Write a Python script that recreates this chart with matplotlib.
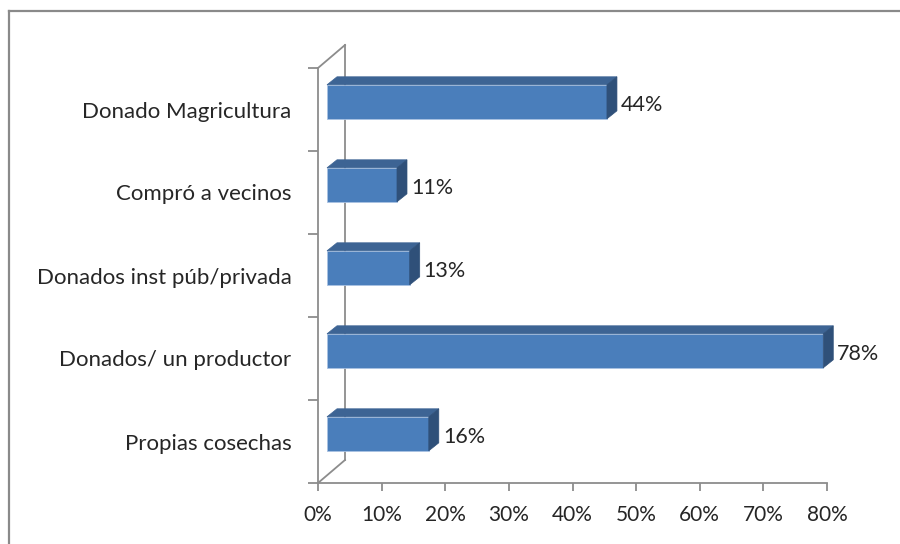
import matplotlib
matplotlib.use("Agg")
import matplotlib.pyplot as plt
from matplotlib.patches import Polygon
from matplotlib.lines import Line2D
from matplotlib import transforms
import numpy as np

plt.rcParams['font.family'] = ['Lato', 'DejaVu Sans']

# datos
categorias = ['Donado Magricultura', 'Compró a vecinos', 'Donados inst púb/privada',
              'Donados/ un productor', 'Propias cosechas']
valores = [44, 11, 13, 78, 16]
etiquetas = ['44%', '11%', '13%', '78%', '16%']
xticks = [0, 10, 20, 30, 40, 50, 60, 70, 80]
xticklabels = ['0%', '10%', '20%', '30%', '40%', '50%', '60%', '70%', '80%']

W, H = 900, 544
fig = plt.figure(figsize=(9, 5.44), dpi=100)
ax = fig.add_axes([318 / W, 1 - 483 / H, (827 - 318) / W, (483 - 68) / H])

n = len(categorias)
ypos = np.arange(n)[::-1]
ax.set_xlim(0, 80)
ax.set_ylim(-0.5, n - 0.5)

gris = '#8c8c8c'
texto = '#262626'
for s in ['top', 'right']:
    ax.spines[s].set_visible(False)
for s in ['left', 'bottom']:
    ax.spines[s].set_color(gris)
    ax.spines[s].set_linewidth(1.3)

ax.set_xticks(xticks)
ax.set_xticklabels(xticklabels, fontsize=15, color=texto)
ax.tick_params(axis='x', direction='out', length=6, width=1.3, color=gris, pad=10)
ax.set_yticks(np.arange(-0.5, n, 1.0))
ax.set_yticklabels([])
ax.tick_params(axis='y', which='major', direction='out', length=7, width=1.3, color=gris)
ax.set_yticks(ypos, minor=True)
ax.set_yticklabels(categorias, minor=True, fontsize=16, color=texto)
ax.tick_params(axis='y', which='minor', length=0, pad=19)

# profundidad 3D en pixeles
wall_dx, wall_dy = 27, 23
bar_dx, bar_dy = 9, 7.7
dep_dx, dep_dy = 10, 8

# pared del fondo
off_wall = transforms.offset_copy(ax.transData, fig=fig, x=wall_dx, y=wall_dy, units='dots')
ax.plot([0, 0], [-0.5, n - 0.5], color=gris, lw=1.3, transform=off_wall, clip_on=False)
for yy in [-0.5, n - 0.5]:
    p0 = ax.transData.transform((0, yy))
    ax.add_line(Line2D([p0[0], p0[0] + wall_dx], [p0[1], p0[1] + wall_dy],
                       color=gris, lw=1.3, transform=None, clip_on=False))

# barras 3D
h = 0.41
off_bar = transforms.offset_copy(ax.transData, fig=fig, x=bar_dx, y=bar_dy, units='dots')
ax.barh(ypos, valores, height=h, color='#4a7ebb', edgecolor='#a9c2e3',
        linewidth=0.6, transform=off_bar, clip_on=False, zorder=3)
for y, v in zip(ypos, valores):
    fl = ax.transData.transform((0, y - h / 2))
    fr = ax.transData.transform((v, y + h / 2))
    x0, x1 = fl[0] + bar_dx, fr[0] + bar_dx
    yb, yt = fl[1] + bar_dy, fr[1] + bar_dy
    top = Polygon([[x0, yt], [x1, yt], [x1 + dep_dx, yt + dep_dy], [x0 + dep_dx, yt + dep_dy]],
                  closed=True, facecolor='#3d6494', edgecolor='#3d6494', lw=0.5,
                  transform=None, clip_on=False, zorder=3)
    side = Polygon([[x1, yb], [x1, yt], [x1 + dep_dx, yt + dep_dy], [x1 + dep_dx, yb + dep_dy]],
                   closed=True, facecolor='#2f5079', edgecolor='#2f5079', lw=0.5,
                   transform=None, clip_on=False, zorder=3)
    ax.add_patch(top)
    ax.add_patch(side)

off_lbl = transforms.offset_copy(ax.transData, fig=fig, x=bar_dx + dep_dx + 4, y=bar_dy - 3.5, units='dots')
for y, v, t in zip(ypos, valores, etiquetas):
    ax.text(v, y, t, transform=off_lbl, ha='left', va='center', fontsize=15.5, color=texto)

# marco exterior
fig.add_artist(Line2D([9 / W, 1.0], [1 - 11 / H, 1 - 11 / H], color='#8a8a8a', lw=1.6))
fig.add_artist(Line2D([9 / W, 9 / W], [0, 1 - 11 / H], color='#8a8a8a', lw=1.6))

fig.savefig('out.png', dpi=100)
